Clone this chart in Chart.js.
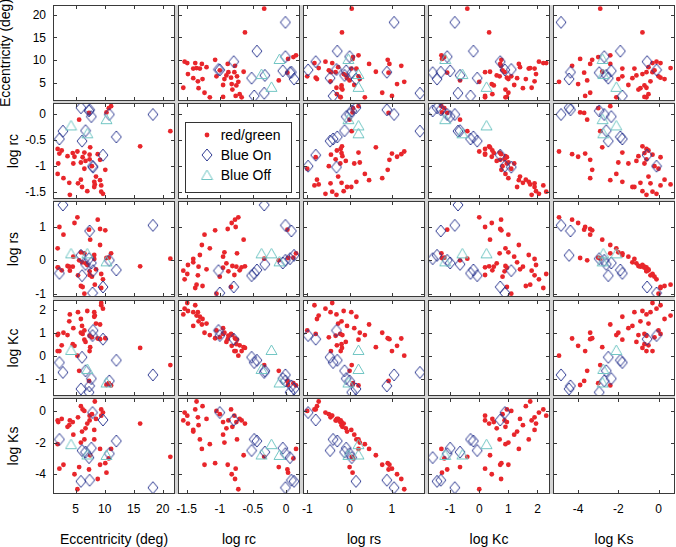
<!DOCTYPE html>
<html><head><meta charset="utf-8">
<script src="https://cdn.jsdelivr.net/npm/chart.js@4/dist/chart.umd.min.js"></script>
<style>
html,body{margin:0;padding:0;background:#fff;}
body{width:676px;height:547px;overflow:hidden;position:relative;font-family:"Liberation Sans",Arial,Helvetica,sans-serif;color:#000;}
canvas.panel{position:absolute;background:#fff;}
.tk{position:absolute;font-size:12px;line-height:12px;white-space:nowrap;}
.ttl{position:absolute;font-size:14px;line-height:14px;white-space:nowrap;text-align:center;}
#gap{position:absolute;background:#d4d4d4;}
#legend{position:absolute;border:1px solid #333;background:#fff;box-sizing:border-box;}
#legend canvas{position:absolute;}
#legend span{position:absolute;font-size:14px;line-height:14px;white-space:nowrap;}
</style>
</head><body>
<div id="gap"></div>
<script>
// ---------- data ----------
const varNames = ['Eccentricity (deg)', 'log rc', 'log rs', 'log Kc', 'log Ks'];

// red/green cells
const redEcc = [11.1,10.7,10.3,7.3,5.6,21.3,16.1,7.5,1.9,2.6,5.3,6.5,4.5,2.2,8.8,7.4,4.8,3.6,6.2,7.4,9.2,6.7,5.9,2.0,4.6,7.8,10.1,6.5,1.9,2.9,8.5,5.9,9.2,8.2,3.9,5.4,9.4,6.1,8.2,8.3,7.0,9.4,9.7,4.0];
const redRc  = [0.15,0.11,0.03,0.02,-0.11,-0.33,-0.62,-0.64,-0.67,-0.70,-0.72,-0.74,-0.75,-0.76,-0.77,-0.78,-0.82,-0.81,-0.83,-0.87,-0.88,-0.90,-0.93,-0.95,-0.95,-1.0,-1.07,-1.05,-1.15,-1.23,-1.2,-1.26,-1.27,-1.3,-1.32,-1.33,-1.37,-1.40,-1.40,-1.35,-1.48,-1.49,-1.53,-1.55];
const redRs  = [0.21,0.08,0.07,0.92,0.0,0.05,-0.18,0.62,-0.21,-0.30,1.29,0.21,-0.19,1.0,1.22,-0.44,1.12,-0.17,-0.80,-0.33,0.94,-0.09,0.24,-0.22,0.11,-0.49,0.90,-1.0,0.36,0.77,-0.27,-0.77,0.46,0.16,-0.19,-0.45,-0.83,-0.06,0.04,-0.73,-0.14,-0.41,-0.57,-0.31];
const redKc  = [-1.3,-1.2,-1.28,-1.1,-0.66,-0.41,0.34,0.37,0.2,0.45,0.0,0.7,0.5,0.2,0.75,0.2,0.43,0.9,0.95,0.87,0.72,0.6,1.0,0.95,1.2,0.8,0.76,1.1,0.9,1.0,1.4,1.6,1.36,1.7,1.5,1.9,2.2,1.3,1.9,1.75,1.95,2.3,2.05,1.8];
const redKs  = [-2.4,-3.0,-3.9,-3.7,-3.55,-2.9,-0.8,-2.8,-0.6,-0.5,-4.95,-1.8,-0.7,-3.65,-4.3,-0.3,-4.0,-1.0,0.1,-0.6,-3.4,-1.1,-2.0,-0.7,-1.5,-0.2,-3.3,0.0,-2.1,-3.4,-0.5,0.3,-2.4,-1.8,-0.9,-0.4,0.1,-1.3,-1.2,0.6,-0.8,-0.3,-0.1,-0.6];

// Blue On cells
const onEcc = [2.8,18.3,7.4,5.9,7.3,10.8,7.7,6.7,12.0,2.2,6.1,8.0,9.7,7.9];
const onRc  = [-0.33,-0.01,0.08,0.12,0.06,-0.01,-0.05,-0.32,-0.44,-0.48,-0.52,-1.02,-0.79,-1.0];
const onRs  = [1.66,1.05,0.88,0.15,0.05,0.0,-0.08,-0.12,-0.29,-0.39,-0.46,-0.31,-0.80,-0.98];
const onKc  = [-0.73,-0.84,-1.32,-1.45,-1.6,-1.1,-1.0,-0.66,-0.2,-0.3,-0.07,1.1,0.72,0.88];
const onKs  = [null,-4.85,-4.38,-4.45,-2.95,-2.7,-2.35,-2.6,-1.9,-1.8,-2.5,null,-0.57,-0.1];

// Blue Off cells
const offEcc = [4.2,7.0,10.3];
const offRc  = [-0.22,-0.37,-0.10];
const offRs  = [0.21,0.21,-0.03];
const offKc  = [0.25,-0.58,-1.17];
const offKs  = [-2.1,-2.75,-2.78];

// axis limits and tick labels
const rangeEcc = [1.1, 22.1], ticksEcc = [5, 10, 15, 20];
const rangeRc  = [-1.63, 0.21], ticksRc = [-1.5, -1, -0.5, 0];
const rangeRs  = [-1.1, 1.78], ticksRs = [-1, 0, 1];
const rangeKc  = [-1.76, 2.43], ticksKc = [-1, 0, 1, 2];
const rangeKs  = [-5.25, 0.82], ticksKs = [-4, -2, 0];

const legendLabels = ['red/green', 'Blue On', 'Blue Off'];

// ---------- styling / layout ----------
const RED = '#e8262b', NAVY = '#2e3a92', TEAL = '#72c6c4';
const colLeft = [53, 178, 303, 428, 553], W = 122;
const rowTop = [5, 103, 201, 300, 398], H = 96;

const vars = [
  {red: redEcc, on: onEcc, off: offEcc, range: rangeEcc, ticks: ticksEcc},
  {red: redRc,  on: onRc,  off: offRc,  range: rangeRc,  ticks: ticksRc},
  {red: redRs,  on: onRs,  off: offRs,  range: rangeRs,  ticks: ticksRs},
  {red: redKc,  on: onKc,  off: offKc,  range: rangeKc,  ticks: ticksKc},
  {red: redKs,  on: onKs,  off: offKs,  range: rangeKs,  ticks: ticksKs}
];

function makeDiamond(){
  const c = document.createElement('canvas'); c.width = 12; c.height = 14;
  const g = c.getContext('2d'); g.strokeStyle = NAVY; g.lineWidth = 1;
  g.beginPath(); g.moveTo(6,1); g.lineTo(11,7); g.lineTo(6,13); g.lineTo(1,7); g.closePath(); g.stroke();
  return c;
}
function makeTriangle(){
  const c = document.createElement('canvas'); c.width = 13; c.height = 12;
  const g = c.getContext('2d'); g.strokeStyle = TEAL; g.lineWidth = 1;
  g.beginPath(); g.moveTo(6.5,1); g.lineTo(12,10.5); g.lineTo(1,10.5); g.closePath(); g.stroke();
  return c;
}
const diamondImg = makeDiamond(), triangleImg = makeTriangle();

function pairs(xs, ys){
  const out = [];
  xs.forEach((x,k) => { const y = ys[k]; if (x != null && y != null) out.push({x, y}); });
  return out;
}

const framePlugin = {
  id: 'frameTicks',
  afterDraw(chart){
    const {ctx, chartArea:{left, top, right, bottom}} = chart;
    const xt = chart.canvas._xt || [], yt = chart.canvas._yt || [];
    ctx.save();
    ctx.strokeStyle = '#3a3a3a'; ctx.lineWidth = 1;
    ctx.beginPath();
    xt.forEach(v => {
      const px = Math.round(chart.scales.x.getPixelForValue(v)) + 0.5;
      ctx.moveTo(px, top); ctx.lineTo(px, top + 4);
      ctx.moveTo(px, bottom); ctx.lineTo(px, bottom - 4);
    });
    yt.forEach(v => {
      const py = Math.round(chart.scales.y.getPixelForValue(v)) + 0.5;
      ctx.moveTo(left, py); ctx.lineTo(left + 4, py);
      ctx.moveTo(right, py); ctx.lineTo(right - 4, py);
    });
    ctx.stroke();
    ctx.strokeRect(left + 0.5, top + 0.5, right - left - 1, bottom - top - 1);
    ctx.restore();
  }
};

const gap = document.getElementById('gap');
gap.style.left = colLeft[0] + 'px'; gap.style.top = rowTop[0] + 'px';
gap.style.width = (colLeft[4] + W - colLeft[0]) + 'px';
gap.style.height = (rowTop[4] + H - rowTop[0]) + 'px';

function addText(cls, txt, left, top, extra){
  const d = document.createElement('div');
  d.className = cls; d.textContent = txt;
  d.style.left = left + 'px'; d.style.top = top + 'px';
  if (extra) Object.assign(d.style, extra);
  document.body.appendChild(d);
  return d;
}

const charts = [];
for (let i = 0; i < 5; i++){
  charts.push([]);
  for (let j = 0; j < 5; j++){
    const cv = document.createElement('canvas');
    cv.className = 'panel'; cv.width = W; cv.height = H;
    cv.style.left = colLeft[j] + 'px'; cv.style.top = rowTop[i] + 'px';
    cv.style.width = W + 'px'; cv.style.height = H + 'px';
    document.body.appendChild(cv);
    const vx = vars[j], vy = vars[i];
    cv._xt = vx.ticks; cv._yt = vy.ticks;
    const datasets = [];
    if (i !== j){
      datasets.push({label: legendLabels[2], data: pairs(vx.off, vy.off), pointStyle: triangleImg, radius: 6});
      datasets.push({label: legendLabels[1], data: pairs(vx.on, vy.on), pointStyle: diamondImg, radius: 6});
      datasets.push({label: legendLabels[0], data: pairs(vx.red, vy.red), pointStyle: 'circle', radius: 2.4,
        backgroundColor: RED, borderColor: RED, borderWidth: 0});
    }
    const ch = new Chart(cv, {
      type: 'scatter',
      data: {datasets},
      options: {
        responsive: false, animation: false, events: [],
        layout: {padding: 0, autoPadding: false},
        elements: {point: {hoverRadius: 0}},
        plugins: {legend: {display: false}, tooltip: {enabled: false}},
        scales: {
          x: {type: 'linear', display: false, min: vx.range[0], max: vx.range[1]},
          y: {type: 'linear', display: false, min: vy.range[0], max: vy.range[1]}
        }
      },
      plugins: [framePlugin]
    });
    charts[i].push(ch);
  }
}

// y tick labels (left column) and x tick labels (bottom row)
for (let i = 0; i < 5; i++){
  const ch = charts[i][0];
  vars[i].ticks.forEach(v => {
    const py = rowTop[i] + ch.scales.y.getPixelForValue(v);
    addText('tk', String(v), 0, py - 5.9, {width: '46px', textAlign: 'right'});
  });
}
for (let j = 0; j < 5; j++){
  const ch = charts[4][j];
  vars[j].ticks.forEach(v => {
    const px = colLeft[j] + ch.scales.x.getPixelForValue(v);
    addText('tk', String(v), px - 20, 503.2, {width: '40px', textAlign: 'center'});
  });
}
// axis titles
for (let j = 0; j < 5; j++){
  addText('ttl', varNames[j], colLeft[j] + W/2 - 80, 531.6, {width: '160px'});
}
for (let i = 0; i < 5; i++){
  const cx = (i === 0) ? 5.2 : 13.2;
  const cy = rowTop[i] + H/2;
  addText('ttl', varNames[i], cx - 80, cy - 7, {width: '160px', transform: 'rotate(-90deg)', transformOrigin: '80px 7px'});
}

// legend inside the (2,2) panel
const lg = document.createElement('div'); lg.id = 'legend';
lg.style.left = '185px'; lg.style.top = '122px'; lg.style.width = '107px'; lg.style.height = '71px';
document.body.appendChild(lg);
const rowsY = [12.5, 33, 52.5];
legendLabels.forEach((lab, k) => {
  const c = document.createElement('canvas'); c.width = 16; c.height = 16;
  c.style.left = (21.7 - 8 - 1) + 'px'; c.style.top = (rowsY[k] - 8 - 1) + 'px';
  const g = c.getContext('2d');
  if (k === 0){ g.fillStyle = RED; g.beginPath(); g.arc(8, 8, 2.4, 0, Math.PI*2); g.fill(); }
  else { const im = k === 1 ? diamondImg : triangleImg; g.drawImage(im, 8 - im.width/2, 8 - im.height/2); }
  lg.appendChild(c);
  const s = document.createElement('span'); s.textContent = lab;
  s.style.left = (35.7 - 1) + 'px'; s.style.top = (rowsY[k] - 1 + 4.9 - 11.85) + 'px';
  lg.appendChild(s);
});
</script>
</body></html>
